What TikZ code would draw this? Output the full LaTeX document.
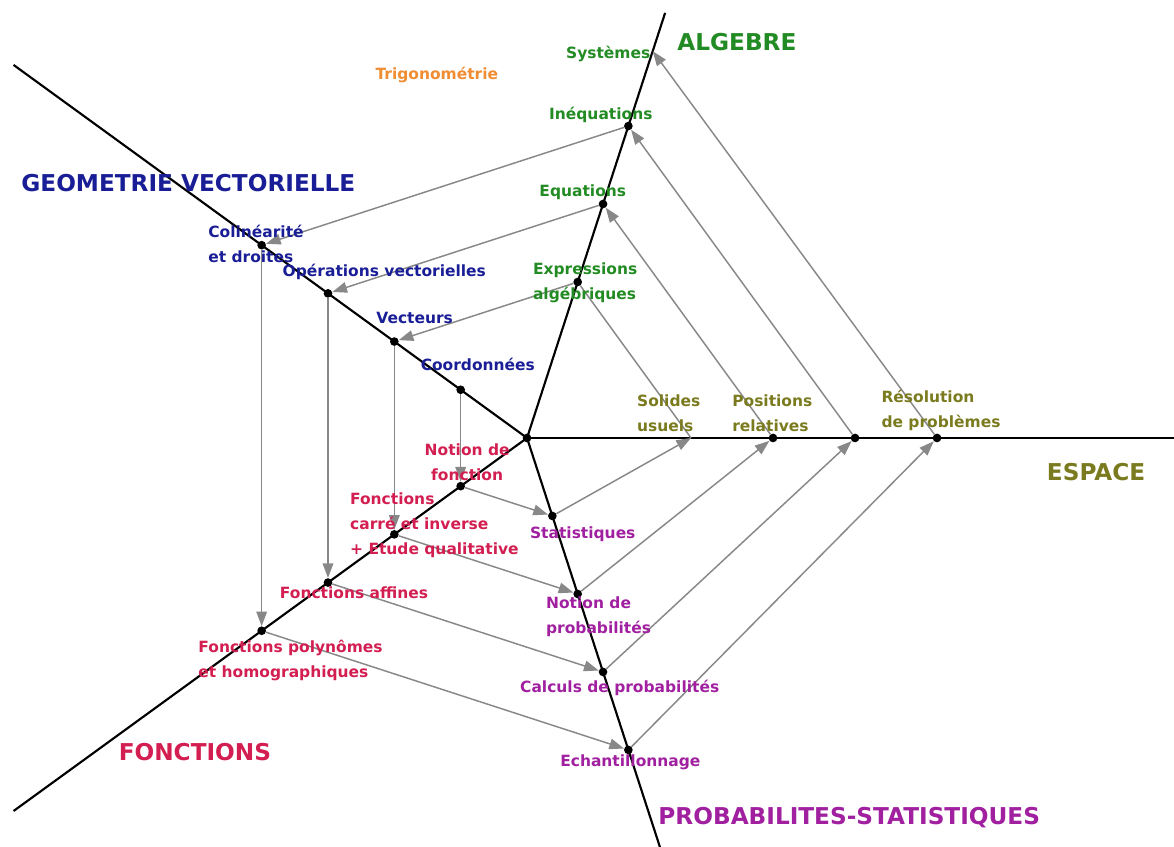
\documentclass[tikz,border=0pt]{standalone}
\usepackage{fontspec}
\setmainfont{DejaVu Sans}
\usepackage{tikz}
\usetikzlibrary{arrows.meta}
\definecolor{algvert}{HTML}{238B23}
\definecolor{geobleu}{HTML}{1A1E96}
\definecolor{espolive}{HTML}{7A7A1E}
\definecolor{fctrouge}{HTML}{D21E50}
\definecolor{probviolet}{HTML}{A020A0}
\definecolor{trigorange}{HTML}{F08C32}
\definecolor{flechegris}{HTML}{888888}
\tikzset{axis/.style={line width=1.6pt,black},
link/.style={-{Triangle[length=11pt,width=8pt]},line width=1.1pt,flechegris},
dot/.style={circle,fill=black,inner sep=0pt,minimum size=6.5pt},
lab/.style={font=\fontsize{11.6}{18.75}\selectfont\bfseries,inner sep=0pt,align=left},
title/.style={font=\fontsize{17.4}{20}\selectfont\bfseries,inner sep=0pt}}

\begin{document}
\begin{tikzpicture}[x=2.1615cm,y=2.1615cm]
\useasboundingbox (-6.427,-4.988) rectangle (7.890,5.341);
% points on the five axes
\node[dot] (c) at (0,0) {};
\foreach \k in {1,...,4} {
 \node[dot] (g\k) at (144:\k) {};
 \node[dot] (f\k) at (216:\k) {};
 \node[dot] (p\k) at (288:\k) {};
}
\foreach \k in {2,3,4} \node[dot] (a\k) at (72:\k) {};
\coordinate (a5) at (72:4.96);
\coordinate (e2) at (0:2);
\foreach \k in {3,4,5} \node[dot] (e\k) at (0:\k) {};
\coordinate (aend) at (72:5.45);
\coordinate (gend) at (144:7.74);
\coordinate (fend) at (216:7.74);
\coordinate (pend) at (288:5.3);
\coordinate (eend) at (7.89,0);
\foreach \e in {aend,gend,fend,pend,eend}
 \draw[axis] (c.center) -- (\e);
% connectors
\foreach \k in {1,...,4} {
 \draw[link] (g\k) -- (f\k);
 \draw[link] (f\k) -- (p\k);
}
\foreach \k/\n in {1/2,2/3,3/4,4/5} \draw[link] (p\k) -- (e\n);
\draw[link,-] (e2) -- (a2);
\foreach \k in {3,4,5} \draw[link] (e\k) -- (a\k);
\foreach \k in {2,3,4} \draw[link] (a\k) -- (g\k);
% labels
\node[title,algvert] (talg) at (2.56,4.83) {ALGEBRE};
\node[title,geobleu] (tgeo) at (-4.13,3.11) {GEOMETRIE VECTORIELLE};
\node[title,espolive] (tesp) at (6.94,-0.41) {ESPACE};
\node[title,fctrouge] (tfct) at (-4.05,-3.83) {FONCTIONS};
\node[title,probviolet] (tprob) at (3.93,-4.63) {PROBABILITES-STATISTIQUES};
\node[lab,trigorange] (ltrig) at (-1.10,4.43) {Trigonométrie};
\node[lab,algvert] (lsys) at (0.99,4.68) {Systèmes};
\node[lab,algvert] (lineq) at (0.90,3.94) {Inéquations};
\node[lab,algvert] (leq) at (0.68,3.0) {Equations};
\node[lab,algvert,anchor=west] (lexpr) at (0.07,1.89) {Expressions\\algébriques};
\node[lab,geobleu,anchor=west] (lcol) at (-3.89,2.37) {Colinéarité\\et droites};
\node[lab,geobleu] (lop) at (-1.74,2.02) {Opérations vectorielles};
\node[lab,geobleu] (lvec) at (-1.37,1.46) {Vecteurs};
\node[lab,geobleu] (lcoord) at (-0.60,0.90) {Coordonnées};
\node[lab,espolive,anchor=west] (lsol) at (1.34,0.30) {Solides\\usuels};
\node[lab,espolive,anchor=west] (lpos) at (2.50,0.30) {Positions\\relatives};
\node[lab,espolive,anchor=west] (lres) at (4.32,0.34) {Résolution\\de problèmes};
\node[lab,fctrouge,align=center] (lnotf) at (-0.73,-0.30) {Notion de\\fonction};
\node[lab,fctrouge,anchor=west] (lcar) at (-2.16,-1.06) {Fonctions\\carré et inverse\\+ Etude qualitative};
\node[lab,fctrouge] (laff) at (-2.11,-1.89) {Fonctions affines};
\node[lab,fctrouge,anchor=west] (lpoly) at (-4.01,-2.71) {Fonctions polynômes\\et homographiques};
\node[lab,probviolet] (lstat) at (0.68,-1.17) {Statistiques};
\node[lab,probviolet,anchor=west] (lnotp) at (0.23,-2.18) {Notion de\\probabilités};
\node[lab,probviolet] (lcalc) at (1.13,-3.05) {Calculs de probabilités};
\node[lab,probviolet] (lech) at (1.26,-3.96) {Echantillonnage};
\end{tikzpicture}
\end{document}
